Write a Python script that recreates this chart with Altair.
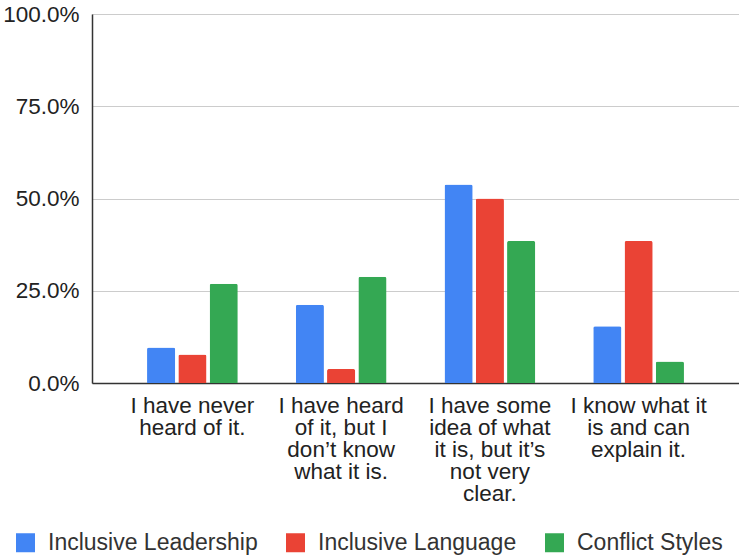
import altair as alt
import pandas as pd

categories = [
    "I have never|heard of it.",
    "I have heard|of it, but I|don\u2019t know|what it is.",
    "I have some|idea of what|it is, but it\u2019s|not very|clear.",
    "I know what it|is and can|explain it.",
]
series = ["Inclusive Leadership", "Inclusive Language", "Conflict Styles"]
leadership = [0.096, 0.212, 0.538, 0.154]
language = [0.077, 0.038, 0.500, 0.385]
conflict = [0.269, 0.288, 0.385, 0.058]
colors = ["#4285F4", "#EA4335", "#34A853"]
y_ticks = [0, 0.25, 0.5, 0.75, 1.0]

rows = []
for s, vals in zip(series, [leadership, language, conflict]):
    for c, v in zip(categories, vals):
        rows.append({"cat": c, "series": s, "value": v})
df = pd.DataFrame(rows)

FONT = "Liberation Sans"

chart = alt.Chart(df).mark_bar(
    cornerRadiusTopLeft=2, cornerRadiusTopRight=2
).encode(
    x=alt.X(
        "cat:N", sort=categories, title=None,
        scale=alt.Scale(paddingInner=0.39, paddingOuter=0.37),
        axis=alt.Axis(
            labelExpr="split(datum.value, '|')", labelAngle=0,
            labelFont=FONT, labelFontSize=22.5, labelColor="#222222",
            labelLineHeight=22, labelBaseline="top", labelPadding=11,
            ticks=False, domain=True, domainColor="#333333", domainWidth=1.5,
            labelLimit=300,
        ),
    ),
    xOffset=alt.XOffset(
        "series:N", sort=series,
        scale=alt.Scale(paddingInner=0.1, paddingOuter=0),
    ),
    y=alt.Y(
        "value:Q", title=None,
        scale=alt.Scale(domain=[0, 1], nice=False),
        axis=alt.Axis(
            values=y_ticks, format=".1%", labelFont=FONT, labelFontSize=22.5,
            labelColor="#222222", labelPadding=13, ticks=False,
            domain=True, domainColor="#333333", domainWidth=1.5,
            grid=True, gridColor="#cccccc", gridWidth=1,
        ),
    ),
    color=alt.Color(
        "series:N", sort=series,
        scale=alt.Scale(domain=series, range=colors),
        legend=alt.Legend(
            title=None, orient="none", direction="horizontal",
            legendX=-78, legendY=517,
            symbolType="M-1,-1H1V1H-1Z", symbolSize=361,
            symbolStrokeWidth=0, symbolOpacity=1,
            labelFont=FONT, labelFontSize=23, labelColor="#333333",
            labelOffset=11, columnPadding=26, labelLimit=400,
        ),
    ),
).properties(
    width=647, height=369,
    autosize=alt.AutoSizeParams(type="none"),
    padding={"left": 92, "top": 14, "right": 0, "bottom": 173},
).configure_view(stroke=None).configure(background="white")

chart.save("out.html", embed_options={"renderer": "svg", "actions": False})
